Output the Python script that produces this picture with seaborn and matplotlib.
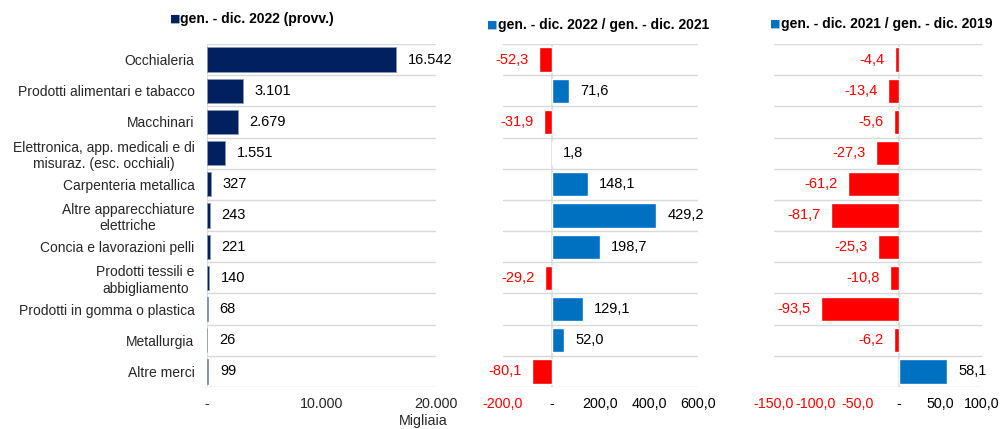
import matplotlib
matplotlib.use("Agg")
import matplotlib.pyplot as plt
import seaborn as sns
import pandas as pd

# Categories (top to bottom)
categories = [
    "Occhialeria",
    "Prodotti alimentari e tabacco",
    "Macchinari",
    "Elettronica, app. medicali e di\nmisuraz. (esc. occhiali)",
    "Carpenteria metallica",
    "Altre apparecchiature\nelettriche",
    "Concia e lavorazioni pelli",
    "Prodotti tessili e\nabbigliamento",
    "Prodotti in gomma o plastica",
    "Metallurgia",
    "Altre merci",
]
# gen. - dic. 2022 (provv.), migliaia
export_2022 = [16542, 3101, 2679, 1551, 327, 243, 221, 140, 68, 26, 99]
# variazioni %
var_22_21 = [-52.3, 71.6, -31.9, 1.8, 148.1, 429.2, 198.7, -29.2, 129.1, 52.0, -80.1]
var_21_19 = [-4.4, -13.4, -5.6, -27.3, -61.2, -81.7, -25.3, -10.8, -93.5, -6.2, 58.1]

titles = ["gen. - dic. 2022 (provv.)",
          "gen. - dic. 2022 / gen. - dic. 2021",
          "gen. - dic. 2021 / gen. - dic. 2019"]

ticks1 = [0, 10000, 20000]
ticks2 = [-200, 0, 200, 400, 600]
ticks3 = [-150, -100, -50, 0, 50, 100]

NAVY = "#002060"
BLUE = "#0070C0"
RED = "#FF0000"
GRID = "#D9D9D9"
NUM_SIZE = 10.3


def fmt_int(v):
    return "-" if v == 0 else f"{v:,.0f}".replace(",", ".")


def fmt_dec(v):
    return "-" if v == 0 else f"{v:.1f}".replace(".", ",")


sns.set_theme(style="white")
plt.rcParams["font.family"] = ["Liberation Sans", "DejaVu Sans"]
plt.rcParams["font.size"] = 10

W, H = 1001, 429
fig = plt.figure(figsize=(W / 100, H / 100), dpi=100)


def px_axes(left, right, top=44, bottom=387):
    return fig.add_axes([left / W, 1 - bottom / H, (right - left) / W, (bottom - top) / H])


ax1 = px_axes(207, 436)
ax2 = px_axes(503, 698)
ax3 = px_axes(774, 982)

# panel 1
df1 = pd.DataFrame({"cat": categories, "val": export_2022})
sns.barplot(data=df1, x="val", y="cat", color=NAVY, saturation=1, width=0.78,
            edgecolor="#8A98B8", linewidth=0.6, orient="h", ax=ax1)
ax1.set_xlim(0, 20000)
for i, v in enumerate(export_2022):
    ax1.annotate(fmt_int(v), xy=(v, i), xytext=(8.5, 0), textcoords="offset points",
                 ha="left", va="center", fontsize=10.5, color="black")
ax1.set_xticks(ticks1)
ax1.set_xticklabels([fmt_int(t) for t in ticks1])
ax1.set_yticks(range(len(categories)))
ax1.set_yticklabels(categories, multialignment="center", fontsize=10)
ax1.tick_params(axis="y", pad=9, length=0)

# panels 2 and 3
for ax, vals, ticks in [(ax2, var_22_21, ticks2), (ax3, var_21_19, ticks3)]:
    df = pd.DataFrame({"cat": categories, "val": vals,
                       "sign": ["neg" if v < 0 else "pos" for v in vals]})
    sns.barplot(data=df, x="val", y="cat", hue="sign", palette={"neg": RED, "pos": BLUE},
                saturation=1, dodge=False, legend=False, width=0.78, orient="h", ax=ax)
    ax.set_xlim(ticks[0], ticks[-1])
    for i, v in enumerate(vals):
        if v < 0:
            ax.annotate(fmt_dec(v), xy=(v, i), xytext=(-7.5, 0), textcoords="offset points",
                        ha="right", va="center", fontsize=10.5, color=RED)
        else:
            ax.annotate(fmt_dec(v), xy=(v, i), xytext=(8, 0), textcoords="offset points",
                        ha="left", va="center", fontsize=10.5, color="black")
    ax.set_xticks(ticks)
    ax.set_xticklabels([fmt_dec(t) for t in ticks])
    for t, lab in zip(ticks, ax.get_xticklabels()):
        lab.set_color(RED if t < 0 else "black")
    ax.set_yticks([])

for ax in (ax1, ax2, ax3):
    ax.set_xlabel("")
    ax.set_ylabel("")
    for s in ax.spines.values():
        s.set_visible(False)
    ax.tick_params(axis="x", length=0, pad=7, labelsize=NUM_SIZE)
    for b in range(len(categories) + 1):
        ax.axhline(b - 0.5, color=GRID, lw=1, zorder=0)
    ax.axvline(0, color=GRID, lw=1.2, zorder=0)

# legend-like titles
for (xs, xt, y), title, col in zip([(170, 180, 19), (487, 498, 25), (770, 781, 24)],
                                   titles, [NAVY, BLUE, BLUE]):
    fig.text(xs / W, 1 - y / H, "\u25A0", color=col, fontsize=8,
             family="DejaVu Sans", va="center", ha="left")
    fig.text(xt / W, 1 - y / H, title, fontsize=10, weight="bold",
             va="center", ha="left", color="black")

fig.text(423 / W, 1 - 421 / H, "Migliaia", fontsize=NUM_SIZE, ha="center", va="center")

fig.savefig("out.png", dpi=100)
